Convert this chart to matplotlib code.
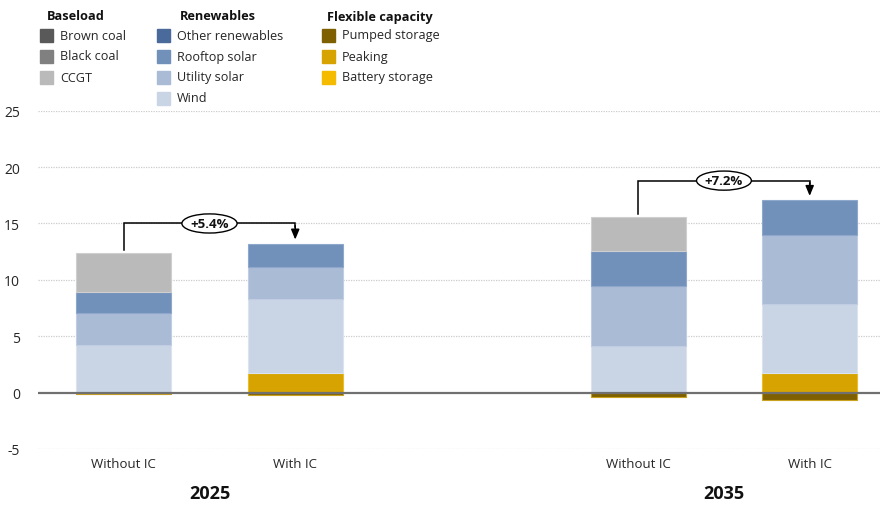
import matplotlib
matplotlib.use("Agg")
import matplotlib.pyplot as plt
from matplotlib.patches import Rectangle
import numpy as np

plt.rcParams['font.family'] = ['Open Sans', 'DejaVu Sans']

# ---- data (GW) ----
years = ["2025", "2035"]
scenarios = ["Without IC", "With IC", "Without IC", "With IC"]
positions = [0, 1, 3, 4]

brown_coal = [0.0, 0.0, 0.0, 0.0]
black_coal = [0.0, 0.0, 0.0, 0.0]
ccgt = [3.41, 0.0, 3.01, 0.0]
other_renewables = [0.0, 0.0, 0.0, 0.0]
rooftop_solar = [1.91, 1.99, 3.08, 3.05]
utility_solar = [2.82, 2.89, 5.33, 6.15]
wind = [4.23, 6.54, 4.14, 6.09]
pumped_storage = [-0.10, -0.20, -0.35, -0.62]
peaking = [0.0, 1.75, 0.0, 1.75]
battery_storage = [0.0, 0.0, 0.0, 0.0]

change_labels = ["+5.4%", "+7.2%"]
change_levels = [15.0, 18.8]

colors = {
    "Brown coal": "#595959",
    "Black coal": "#808080",
    "CCGT": "#bababa",
    "Other renewables": "#4a6a9b",
    "Rooftop solar": "#7191bb",
    "Utility solar": "#aabbd6",
    "Wind": "#c9d5e5",
    "Pumped storage": "#7f6000",
    "Peaking": "#d6a300",
    "Battery storage": "#f5bb00",
}
edges = {
    "Brown coal": "#7a7a7a",
    "Black coal": "#9a9a9a",
    "CCGT": "#cfcfcf",
    "Other renewables": "#6f8bb5",
    "Rooftop solar": "#8ea8cb",
    "Utility solar": "#c0cde2",
    "Wind": "#dbe3ee",
    "Pumped storage": "#c9a21f",
    "Peaking": "#e9bd2c",
    "Battery storage": "#f8cd40",
}

fig = plt.figure(figsize=(8.8, 5.06), dpi=100)
ax = fig.add_axes([38 / 880, 1 - 450 / 506, 1 - 38 / 880, (450 - 111.7) / 506])

# positive stack, bottom to top
pos_stack = [
    ("Battery storage", battery_storage),
    ("Peaking", peaking),
    ("Wind", wind),
    ("Utility solar", utility_solar),
    ("Rooftop solar", rooftop_solar),
    ("Other renewables", other_renewables),
    ("CCGT", ccgt),
    ("Black coal", black_coal),
    ("Brown coal", brown_coal),
]
width = 0.555
pos_arr = np.array(positions, dtype=float)
bottom = np.zeros(len(positions))
for name, vals in pos_stack:
    v = np.array(vals)
    nz = v != 0
    if nz.any():
        ax.bar(pos_arr[nz], v[nz], width, bottom=bottom[nz], color=colors[name],
               edgecolor=edges[name], linewidth=0.8, zorder=2)
    bottom += v
totals = bottom.copy()

neg = np.array(pumped_storage)
ax.bar(pos_arr, neg, width, color=colors["Pumped storage"],
       edgecolor=edges["Pumped storage"], linewidth=0.8, zorder=2)

ax.set_xlim(-0.5, 4.41)
ax.set_ylim(-5, 25)
ax.set_yticks([-5, 0, 5, 10, 15, 20, 25])
ax.set_yticklabels(["-5", "0", "5", "10", "15", "20", "25"], fontsize=10, color="#262626")
ax.tick_params(axis="y", length=0, pad=13)
ax.set_xticks(positions)
ax.set_xticklabels(scenarios, fontsize=9.5, color="#262626")
ax.tick_params(axis="x", length=0, pad=6)
for s in ax.spines.values():
    s.set_visible(False)
for yv in [-5, 5, 10, 15, 20, 25]:
    ax.axhline(yv, color="#cccccc", lw=0.9, ls=(0, (1, 1)), zorder=0)
ax.axhline(0, color="#707070", lw=1.6, zorder=4)

# year group labels
for i, yr in enumerate(years):
    xc = (positions[2 * i] + positions[2 * i + 1]) / 2
    ax.text(xc, -8.9, yr, ha="center", va="center", fontsize=13,
            fontweight="bold", color="#111111", clip_on=False)

# change connectors
for i in range(2):
    a, b = 2 * i, 2 * i + 1
    xa, xb = positions[a], positions[b]
    lvl = change_levels[i]
    ax.plot([xa, xa, xb, xb], [totals[a] + 0.3, lvl, lvl, lvl - 0.3],
            color="black", lw=1.1, zorder=5, solid_joinstyle="miter")
    ax.annotate("", xy=(xb, totals[b] + 0.4), xytext=(xb, lvl - 0.2),
                arrowprops=dict(arrowstyle="-|>,head_length=0.6,head_width=0.25",
                                color="black", lw=1.1, shrinkA=0, shrinkB=0),
                zorder=5)
    ax.text((xa + xb) / 2, lvl, change_labels[i], ha="center", va="center",
            fontsize=9.5, fontweight="bold", color="#111111", zorder=6,
            bbox=dict(boxstyle="ellipse,pad=0.02", fc="white", ec="black", lw=1.0))

# legend
groups = [
    ("Baseload", 47, 40, ["Brown coal", "Black coal", "CCGT"]),
    ("Renewables", 180, 157, ["Other renewables", "Rooftop solar", "Utility solar", "Wind"]),
    ("Flexible capacity", 327, 322, ["Pumped storage", "Peaking", "Battery storage"]),
]
row_y = [36, 57, 78, 99]
for title, tx, sx, items in groups:
    fig.text(tx / 880, 1 - 17 / 506, title, ha="left", va="center",
             fontsize=9.2, fontweight="bold", color="#111111")
    for j, name in enumerate(items):
        yc = row_y[j]
        fig.patches.append(Rectangle((sx / 880, 1 - (yc + 6.5) / 506), 13 / 880, 13 / 506,
                                     transform=fig.transFigure, color=colors[name],
                                     figure=fig))
        fig.text((sx + 20) / 880, 1 - yc / 506, name, ha="left", va="center",
                 fontsize=9.1, color="#262626")

fig.savefig("out.png", dpi=100)
